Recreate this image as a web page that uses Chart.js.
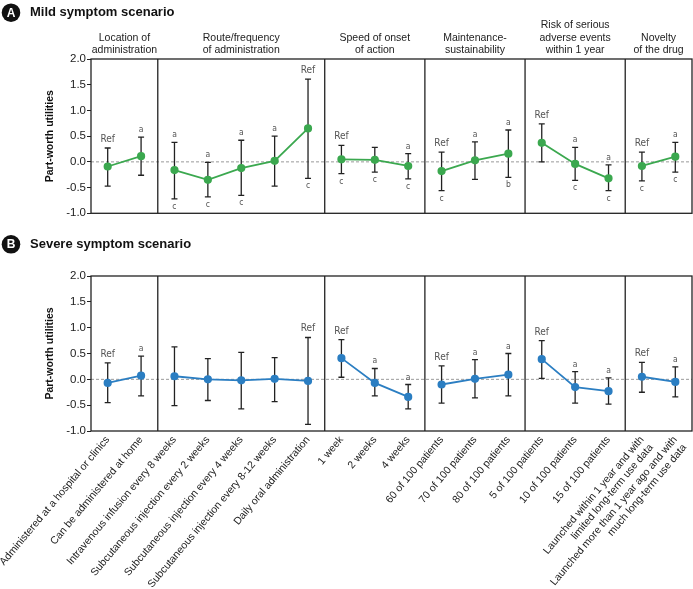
<!DOCTYPE html>
<html><head><meta charset="utf-8">
<script src="https://cdn.jsdelivr.net/npm/chart.js@4"></script>
<style>
html,body{margin:0;padding:0;background:#fff;overflow:hidden;}
#w1{position:absolute;left:0;top:0;width:693px;height:230px;}
#w2{position:absolute;left:0;top:230px;width:693px;height:359px;}
</style></head><body>
<div id="w1"><canvas id="c1"></canvas></div>
<div id="w2"><canvas id="c2"></canvas></div>
<script>
const categories = [
  "Administered at a hospital or clinics",
  "Can be administered at home",
  "Intravenous infusion every 8 weeks",
  "Subcutaneous injection every 2 weeks",
  "Subcutaneous injection every 4 weeks",
  "Subcutaneous injection every 8-12 weeks",
  "Daily oral administration",
  "1 week", "2 weeks", "4 weeks",
  "60 of 100 patients", "70 of 100 patients", "80 of 100 patients",
  "5 of 100 patients", "10 of 100 patients", "15 of 100 patients",
  ["Launched within 1 year and with", "limited long-term use data"],
  ["Launched more than 1 year ago and with", "much long-term use data"]
];
const groupTitles = [
  ["Location of", "administration"],
  ["Route/frequency", "of administration"],
  ["Speed of onset", "of action"],
  ["Maintenance-", "sustainability"],
  ["Risk of serious", "adverse events", "within 1 year"],
  ["Novelty", "of the drug"]
];
const groupSizes = [2, 5, 3, 3, 3, 2];
const yTicks = [-1.0, -0.5, 0.0, 0.5, 1.0, 1.5, 2.0];

const mildValues = [-0.09, 0.11, -0.16, -0.35, -0.12, 0.02, 0.65, 0.05, 0.04, -0.08, -0.18, 0.03, 0.16, 0.37, -0.04, -0.32, -0.08, 0.10];
const mildLow    = [-0.47, -0.26, -0.72, -0.68, -0.65, -0.47, -0.32, -0.23, -0.20, -0.33, -0.56, -0.34, -0.30, 0.00, -0.36, -0.56, -0.37, -0.20];
const mildHigh   = [0.27, 0.48, 0.38, -0.01, 0.42, 0.50, 1.61, 0.32, 0.28, 0.16, 0.19, 0.39, 0.62, 0.74, 0.28, -0.06, 0.19, 0.38];
const mildAbove  = ["Ref","a","a","a","a","a","Ref","Ref","","a","Ref","a","a","Ref","a","a","Ref","a"];
const mildBelow  = ["","","c","c","c","","c","c","c","c","c","","b","","c","c","c","c"];

const severeValues = [-0.07, 0.07, 0.06, 0.00, -0.02, 0.01, -0.03, 0.41, -0.07, -0.34, -0.10, 0.01, 0.09, 0.39, -0.15, -0.23, 0.05, -0.05];
const severeLow    = [-0.45, -0.32, -0.51, -0.41, -0.57, -0.43, -0.87, 0.04, -0.32, -0.57, -0.46, -0.36, -0.32, 0.02, -0.46, -0.48, -0.25, -0.34];
const severeHigh   = [0.32, 0.45, 0.63, 0.40, 0.52, 0.42, 0.81, 0.77, 0.21, -0.10, 0.26, 0.38, 0.50, 0.75, 0.15, 0.03, 0.33, 0.24];
const severeAbove  = ["Ref","a","","","","","Ref","Ref","a","a","Ref","a","a","Ref","a","a","Ref","a"];
const severeBelow  = ["","","","","","","","","","","","","","","","","",""];

const groupOf = [];
groupSizes.forEach((n, g) => { for (let k = 0; k < n; k++) groupOf.push(g); });

Chart.defaults.font.family = "'Liberation Sans', Arial, sans-serif";
Chart.defaults.color = '#222';

function makePlugin(cfg) {
  return {
    id: 'deco' + cfg.letter,
    beforeDatasetsDraw(chart) {
      const ctx = chart.ctx, a = chart.chartArea;
      const xs = chart.scales.x, ys = chart.scales.y;
      ctx.save();
      ctx.strokeStyle = '#9a9a9a'; ctx.lineWidth = 1; ctx.setLineDash([3, 2]);
      const y0 = ys.getPixelForValue(0);
      ctx.beginPath(); ctx.moveTo(a.left, y0); ctx.lineTo(a.right, y0); ctx.stroke();
      ctx.setLineDash([]);
      ctx.strokeStyle = '#222'; ctx.lineWidth = 1.3;
      let idx = 0;
      for (let g = 0; g < groupSizes.length - 1; g++) {
        idx += groupSizes[g];
        const sx = (xs.getPixelForValue(idx - 1) + xs.getPixelForValue(idx)) / 2;
        ctx.beginPath(); ctx.moveTo(sx, a.top); ctx.lineTo(sx, a.bottom); ctx.stroke();
      }
      ctx.strokeRect(a.left, a.top, a.right - a.left, a.bottom - a.top);
      ctx.strokeStyle = '#222'; ctx.lineWidth = 1.3;
      for (let i = 0; i < categories.length; i++) {
        const x = xs.getPixelForValue(i);
        const yl = ys.getPixelForValue(cfg.low[i]);
        const yh = ys.getPixelForValue(cfg.high[i]);
        ctx.beginPath();
        ctx.moveTo(x, yl); ctx.lineTo(x, yh);
        ctx.moveTo(x - 3, yl); ctx.lineTo(x + 3, yl);
        ctx.moveTo(x - 3, yh); ctx.lineTo(x + 3, yh);
        ctx.stroke();
      }
      ctx.restore();
    },
    afterDatasetsDraw(chart) {
      const ctx = chart.ctx;
      const xs = chart.scales.x, ys = chart.scales.y;
      ctx.save();
      ctx.fillStyle = '#555';
      ctx.textAlign = 'center';
      ctx.textBaseline = 'alphabetic';
      for (let i = 0; i < categories.length; i++) {
        const x = xs.getPixelForValue(i);
        const t = cfg.above[i];
        if (t) {
          ctx.font = (t === 'Ref' ? '10px' : '8.5px') + " 'Liberation Sans Narrow', 'DejaVu Sans Condensed', sans-serif";
          ctx.fillText(t, x, ys.getPixelForValue(cfg.high[i]) - (t === 'Ref' ? 6 : 5));
        }
        const b = cfg.below[i];
        if (b) {
          ctx.font = "8.5px 'Liberation Sans Narrow', 'DejaVu Sans Condensed', sans-serif";
          ctx.fillText(b, x, ys.getPixelForValue(cfg.low[i]) + 10);
        }
      }
      ctx.restore();
    },
    afterDraw(chart) {
      const ctx = chart.ctx;
      const xs = chart.scales.x;
      ctx.save();
      ctx.fillStyle = '#111';
      ctx.beginPath(); ctx.arc(11, cfg.titleY, 9.3, 0, Math.PI * 2); ctx.fill();
      ctx.fillStyle = '#fff';
      ctx.font = "bold 12px 'Liberation Sans', Arial, sans-serif";
      ctx.textAlign = 'center'; ctx.textBaseline = 'middle';
      ctx.fillText(cfg.letter, 11, cfg.titleY + 0.5);
      ctx.fillStyle = '#111';
      ctx.font = "bold 13px 'Liberation Sans', Arial, sans-serif";
      ctx.textAlign = 'left';
      ctx.fillText(cfg.title, 30, cfg.titleY);
      if (cfg.headers) {
        ctx.fillStyle = '#222';
        ctx.font = "10.5px 'Liberation Sans', Arial, sans-serif";
        ctx.textAlign = 'center'; ctx.textBaseline = 'middle';
        const half = (xs.getPixelForValue(1) - xs.getPixelForValue(0)) / 2;
        let idx = 0;
        groupTitles.forEach((lines, g) => {
          const x0 = xs.getPixelForValue(idx) - half;
          const x1 = xs.getPixelForValue(idx + groupSizes[g] - 1) + half;
          idx += groupSizes[g];
          const cx = (x0 + x1) / 2;
          lines.forEach((ln, k) => {
            ctx.fillText(ln, cx, 50.3 - (lines.length - 1 - k) * 12.6);
          });
        });
      }
      ctx.restore();
    }
  };
}

function makeChart(id, cfg) {
  return new Chart(document.getElementById(id), {
    type: 'line',
    data: {
      labels: categories,
      datasets: [{
        data: cfg.values,
        borderColor: cfg.color,
        backgroundColor: cfg.color,
        pointBackgroundColor: cfg.color,
        pointBorderColor: cfg.color,
        pointRadius: 3.2,
        pointHoverRadius: 3.2,
        borderWidth: 1.8,
        tension: 0,
        fill: false,
        clip: false,
        segment: {
          borderColor: c => groupOf[c.p0DataIndex] !== groupOf[c.p1DataIndex] ? 'rgba(0,0,0,0)' : cfg.color
        }
      }]
    },
    options: {
      responsive: true,
      maintainAspectRatio: false,
      animation: false,
      events: [],
      layout: { padding: cfg.padding, autoPadding: false },
      plugins: { legend: { display: false }, tooltip: { enabled: false } },
      scales: {
        x: {
          type: 'category',
          offset: true,
          display: cfg.showX,
          grid: { display: false, drawTicks: false },
          border: { display: false },
          ticks: {
            autoSkip: false, minRotation: 50, maxRotation: 50, padding: 3,
            color: '#222',
            font: { size: 10.5, lineHeight: 1.15 }
          },
          afterFit(s) { if (cfg.showX) { s.height = cfg.xHeight; s.paddingLeft = 0; s.paddingRight = 0; } }
        },
        y: {
          min: yTicks[0], max: yTicks[yTicks.length - 1],
          afterBuildTicks(s) { s.ticks = yTicks.map(v => ({ value: v })); },
          grid: { display: true, drawOnChartArea: false, drawTicks: true, tickLength: 4, color: '#222', lineWidth: 1 },
          border: { display: false },
          ticks: { padding: 1, color: '#222', font: { size: 11.5 }, callback: v => Number(v).toFixed(1) },
          title: { display: true, text: 'Part-worth utilities', color: '#111',
                   font: { size: 10.5, weight: 'bold' }, padding: { top: 44, bottom: 0 } },
          afterFit(s) { s.width = 91; }
        }
      }
    },
    plugins: [makePlugin(cfg)]
  });
}

makeChart('c1', {
  letter: 'A', title: 'Mild symptom scenario', titleY: 12.7, headers: true,
  values: mildValues, low: mildLow, high: mildHigh, above: mildAbove, below: mildBelow,
  color: '#3ba84f', showX: false,
  padding: { top: 59, bottom: 16.7, left: 0, right: 1 }
});
makeChart('c2', {
  letter: 'B', title: 'Severe symptom scenario', titleY: 14.3, headers: false,
  values: severeValues, low: severeLow, high: severeHigh, above: severeAbove, below: severeBelow,
  color: '#2b7ec2', showX: true, xHeight: 158,
  padding: { top: 46, bottom: 0, left: 0, right: 1 }
});
</script>
</body></html>
